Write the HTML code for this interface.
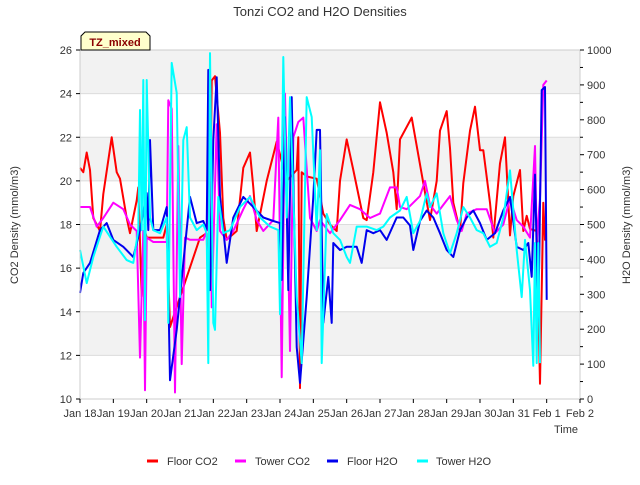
<!DOCTYPE html>
<html><head><meta charset="utf-8"><style>
body{margin:0;background:#fff;}
svg text{font-family:"Liberation Sans",sans-serif;}
</style></head><body>
<svg id="chart" width="640" height="480" xmlns="http://www.w3.org/2000/svg">
<g id="bands"></g><g id="series"></g><g id="axes"></g>
</svg>
<script>
const xTickLabels=["Jan 18","Jan 19","Jan 20","Jan 21","Jan 22","Jan 23","Jan 24","Jan 25","Jan 26","Jan 27","Jan 28","Jan 29","Jan 30","Jan 31","Feb 1","Feb 2"];
const leftTicks=[10,12,14,16,18,20,22,24,26];
const rightTicks=[0,100,200,300,400,500,600,700,800,900,1000];
const floorCO2Days=[0,0.1,0.2,0.3,0.4,0.6,0.7,0.95,1.1,1.2,1.4,1.5,1.7,1.75,1.85,1.95,2.0,2.5,2.6,2.7,3.6,3.8,3.85,3.9,3.95,4.05,4.2,4.3,4.4,4.7,4.9,5.1,5.2,5.3,5.6,5.9,6.2,6.5,6.55,6.6,6.65,6.8,7.1,7.3,7.5,7.7,7.8,8.0,8.2,8.5,8.6,8.8,9.0,9.2,9.4,9.5,9.6,9.95,10.3,10.5,10.7,10.8,11.0,11.1,11.2,11.4,11.5,11.7,11.85,12.0,12.1,12.3,12.4,12.6,12.75,12.9,13.0,13.2,13.3,13.4,13.5,13.7,13.8,13.9,13.95,14.0];
const floorCO2=[20.6,20.4,21.3,20.5,18.3,17.7,19.4,22.0,20.4,20.1,18.3,17.6,19.1,19.7,14.7,17.7,17.4,17.4,18.0,13.3,17.4,17.6,14.5,17.4,24.6,24.8,22.2,18.3,17.3,17.7,20.6,21.3,19.7,17.7,20.0,21.8,20.0,20.5,22.0,10.5,20.4,20.2,20.1,18.5,18.0,17.7,20.0,21.9,20.5,18.3,18.2,20.4,23.6,22.2,20.4,18.7,21.9,22.9,19.9,18.2,20.0,22.3,23.2,21.5,19.0,17.7,19.9,22.3,23.4,21.4,21.4,19.0,17.4,20.8,22.0,17.5,19.3,20.5,17.7,18.4,17.8,17.7,10.7,19.0,17.3,17.3];
const towerCO2Days=[0,0.3,0.5,0.7,1.0,1.3,1.5,1.7,1.8,1.9,1.95,2.0,2.2,2.6,2.65,2.75,2.85,2.95,3.05,3.15,3.3,3.7,3.8,3.9,3.95,4.1,4.2,4.4,4.6,4.9,5.1,5.3,5.5,5.8,5.95,6.05,6.15,6.3,6.4,6.55,6.7,6.9,7.1,7.2,7.5,7.8,8.1,8.4,8.7,9.0,9.3,9.5,9.6,9.8,10.2,10.35,10.5,10.7,10.9,11.1,11.3,11.45,11.6,11.9,12.2,12.45,12.7,12.9,13.1,13.3,13.5,13.65,13.7,13.8,13.9,14.0];
const towerCO2=[18.8,18.8,17.9,18.3,19.0,18.7,18.0,17.7,11.9,17.7,10.4,17.4,17.2,17.2,23.7,23.3,10.3,21.6,11.6,17.4,17.3,17.3,17.7,21.3,14.2,22.6,17.7,17.3,17.7,18.7,19.3,18.2,17.7,18.2,22.9,11.0,24.0,12.2,22.0,22.7,22.9,18.3,17.7,18.2,17.6,18.2,18.9,18.7,18.3,18.5,19.7,19.7,18.8,18.7,19.3,20.0,18.9,18.5,18.9,19.3,18.2,17.7,18.5,18.7,18.7,17.6,18.0,19.2,18.2,17.9,17.4,21.6,17.2,19.2,24.4,24.6];
const floorH2ODays=[0,0.1,0.3,0.6,0.8,1.0,1.3,1.6,1.8,2.0,2.05,2.1,2.2,2.4,2.6,2.7,2.9,3.1,3.3,3.5,3.7,3.8,3.85,3.9,4.0,4.1,4.2,4.4,4.6,4.9,5.2,5.5,5.8,6.0,6.05,6.15,6.25,6.35,6.5,6.6,6.8,7.0,7.1,7.2,7.3,7.45,7.55,7.6,7.8,8.0,8.3,8.45,8.6,8.8,9.0,9.2,9.5,9.7,9.9,10.0,10.2,10.4,10.6,10.8,11.0,11.2,11.4,11.6,11.8,12.0,12.2,12.45,12.7,12.9,13.1,13.3,13.45,13.55,13.65,13.75,13.85,13.95,14.0];
const floorH2O=[304,361,390,484,504,456,436,407,484,590,484,742,484,484,550,54,198,390,579,504,510,484,943,312,742,922,579,390,520,579,550,520,510,504,341,808,312,865,149,46,292,579,771,771,218,350,218,447,427,436,436,390,484,475,484,456,520,520,497,427,510,540,520,475,427,407,484,520,540,504,456,475,540,579,436,427,447,350,643,228,885,894,284];
const towerH2ODays=[0,0.2,0.4,0.7,0.9,1.1,1.4,1.6,1.75,1.8,1.85,1.9,1.95,2.0,2.1,2.2,2.4,2.6,2.65,2.75,2.9,3.0,3.1,3.2,3.3,3.5,3.7,3.8,3.85,3.9,4.0,4.05,4.15,4.3,4.5,4.8,5.1,5.4,5.7,5.95,6.0,6.1,6.2,6.3,6.5,6.65,6.8,6.95,7.1,7.2,7.25,7.4,7.6,7.8,8.0,8.1,8.3,8.6,8.9,9.1,9.3,9.6,9.8,10.0,10.2,10.4,10.5,10.7,10.9,11.1,11.3,11.5,11.7,11.9,12.1,12.3,12.5,12.7,12.9,13.1,13.25,13.35,13.5,13.6,13.65,13.7,13.75,13.8];
const towerH2O=[427,332,407,494,465,436,398,390,484,828,484,914,226,914,520,484,475,520,218,963,877,292,742,779,520,484,500,475,103,991,218,198,579,475,484,550,579,520,494,484,243,980,520,865,292,103,865,808,484,713,103,530,475,456,407,390,494,494,484,494,520,540,579,475,510,589,550,589,475,417,475,550,520,484,475,436,447,520,655,427,292,456,312,95,447,103,447,103];

const NS="http://www.w3.org/2000/svg";
const L=80,R=580,T=50,B=399;
const xS=d=>L+d*(R-L)/15;
const yL=v=>B-(v-10)*(B-T)/16;
const yR=v=>B-v*(B-T)/1000;
function el(tag,attrs,parent,text){const e=document.createElementNS(NS,tag);for(const k in attrs)e.setAttribute(k,attrs[k]);if(text!==undefined)e.textContent=text;parent.appendChild(e);return e;}
const bands=document.getElementById('bands'),series=document.getElementById('series'),axes=document.getElementById('axes');
el('rect',{x:L,y:T,width:R-L,height:B-T,fill:'#fff'},bands);
for(let v=12;v<26;v+=4){const r=el('rect',{x:L,y:yL(v+2),width:R-L,height:yL(v)-yL(v+2),fill:'#f2f2f2'},bands);

}
leftTicks.forEach(v=>{el('line',{x1:L,x2:R,y1:yL(v),y2:yL(v),stroke:'#dcdcdc','stroke-width':1},bands);});
function drawLine(days,vals,scale,color,name){
 const pts=days.map((d,i)=>xS(d).toFixed(1)+','+scale(vals[i]).toFixed(1)).join(' ');
 const p=el('polyline',{points:pts,fill:'none',stroke:color,'stroke-width':2,'stroke-linejoin':'round'},series);
 
 
}
drawLine(floorCO2Days,floorCO2,yL,'#ff0000','floor-co2-line');
drawLine(towerCO2Days,towerCO2,yL,'#ff00ff','tower-co2-line');
drawLine(floorH2ODays,floorH2O,yR,'#0000ee','floor-h2o-line');
drawLine(towerH2ODays,towerH2O,yR,'#00ffff','tower-h2o-line');
el('rect',{x:L,y:T,width:R-L,height:B-T,fill:'none',stroke:'#cccccc'},axes);
xTickLabels.forEach((t,i)=>{const x=xS(i);el('line',{x1:x,x2:x,y1:B,y2:B+4,stroke:'#000'},axes);
 const tx=el('text',{x:x,y:B+18,'font-size':11,'text-anchor':'middle',fill:'#333'},axes,t);
 
 });
leftTicks.forEach(v=>{const y=yL(v);el('line',{x1:L-4,x2:L,y1:y,y2:y,stroke:'#000'},axes);
 const tx=el('text',{x:L-8,y:y+4,'font-size':11,'text-anchor':'end',fill:'#333'},axes,String(v));
 
 });
rightTicks.forEach(v=>{const y=yR(v);el('line',{x1:R,x2:R+4,y1:y,y2:y,stroke:'#000'},axes);
 if(v<1000)el('line',{x1:R,x2:R+3,y1:yR(v+50),y2:yR(v+50),stroke:'#000'},axes);
 const tx=el('text',{x:R+7,y:y+4,'font-size':11,'text-anchor':'start',fill:'#333'},axes,String(v));
 
 });
</script>
<svg width="640" height="480" style="position:absolute;left:0;top:0" xmlns="http://www.w3.org/2000/svg">
<text x="320" y="16" font-size="13" text-anchor="middle" fill="#333">Tonzi CO2 and H2O Densities</text>
<text transform="translate(18,225) rotate(-90)" font-size="11" text-anchor="middle" fill="#333">CO2 Density (mmol/m3)</text>
<text transform="translate(630,225) rotate(-90)" font-size="11" text-anchor="middle" fill="#333">H2O Density (mmol/m3)</text>
<text x="566" y="433" font-size="11" text-anchor="middle" fill="#333">Time</text>
<g>
<path d="M81,50 L81,36 L85,32 L146,32 L150,36 L150,50 Z" fill="#ffffcc" stroke="#000"/>
<text x="115" y="46" font-size="11" font-weight="bold" text-anchor="middle" fill="#8b0000">TZ_mixed</text></g>
<g font-size="11" fill="#333">
<g><line x1="147" x2="158" y1="461" y2="461" stroke="#ff0000" stroke-width="3"/><text x="167" y="465">Floor CO2</text></g>
<g><line x1="235" x2="246" y1="461" y2="461" stroke="#ff00ff" stroke-width="3"/><text x="255" y="465">Tower CO2</text></g>
<g><line x1="327" x2="338" y1="461" y2="461" stroke="#0000ee" stroke-width="3"/><text x="347" y="465">Floor H2O</text></g>
<g><line x1="417" x2="428" y1="461" y2="461" stroke="#00ffff" stroke-width="3"/><text x="436" y="465">Tower H2O</text></g>
</g>
</svg>
</body></html>
